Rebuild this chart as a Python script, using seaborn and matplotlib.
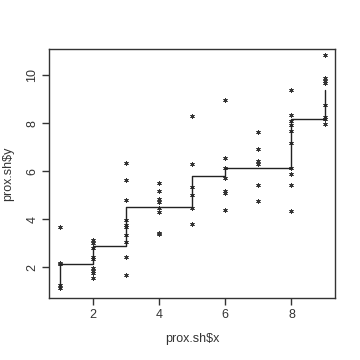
import matplotlib
matplotlib.use("Agg")
import matplotlib.pyplot as plt
import seaborn as sns
import pandas as pd

# observed data (x group, y value)
x_vals = ([1]*5 + [2]*9 + [3]*10 + [4]*8 + [5]*6 + [6]*7 + [7]*6 + [8]*10 + [9]*8)
y_vals = [3.69, 2.18, 2.12, 1.25, 1.15,
          3.12, 3.0, 2.8, 2.42, 2.35, 1.97, 1.85, 1.76, 1.54,
          6.36, 5.64, 4.8, 3.97, 3.76, 3.67, 3.35, 3.07, 2.42, 1.68,
          5.5, 5.18, 4.85, 4.73, 4.46, 4.32, 3.42, 3.37,
          8.32, 6.3, 5.33, 5.0, 4.46, 3.79,
          8.97, 6.57, 6.15, 5.73, 5.18, 5.08, 4.39,
          7.65, 6.93, 6.43, 6.29, 5.43, 4.76,
          9.39, 8.35, 8.1, 7.95, 7.69, 7.17, 6.12, 5.89, 5.43, 4.36,
          10.85, 9.87, 9.76, 9.67, 8.76, 8.28, 8.18, 7.97]

# isotonic fit step vertices
step_x = [1, 1, 2, 2, 3, 3, 5, 5, 6, 6, 8, 8, 9, 9]
step_y = [1.15, 2.14, 2.14, 2.9, 2.9, 4.53, 4.53, 5.8, 5.8, 6.12, 6.12, 8.17, 8.17, 9.39]

x_ticks = [2, 4, 6, 8]
y_ticks = [2, 4, 6, 8, 10]

sns.set_style("white")
plt.rcParams['font.family'] = ['Liberation Sans', 'DejaVu Sans']

fig = plt.figure(figsize=(3.6, 3.6), dpi=100)
ax = fig.add_axes([0.137, 0.173, 0.794, 0.691])

df = pd.DataFrame({"x": x_vals, "y": y_vals})
sns.scatterplot(data=df, x="x", y="y", ax=ax, marker=(6, 2, 0), s=8,
                color="#333333", linewidth=0.6, edgecolor="#333333")
sns.lineplot(x=step_x, y=step_y, ax=ax, estimator=None, sort=False,
             drawstyle="steps-post", color="#222222", linewidth=1.0)

ax.set_xlim(0.68, 9.32)
ax.set_ylim(0.73, 11.1)
ax.set_xticks(x_ticks)
ax.set_yticks(y_ticks)
ax.set_xticklabels([str(t) for t in x_ticks], fontsize=9, color="#333333")
ax.set_yticklabels([str(t) for t in y_ticks], fontsize=9, color="#333333",
                   rotation=90, va="center")
ax.tick_params(axis="both", direction="out", length=5, width=1, color="#333333",
               bottom=True, left=True, pad=3)
for s in ax.spines.values():
    s.set_visible(True)
    s.set_color("#333333")
    s.set_linewidth(1.0)
ax.set_xlabel("prox.sh$x", fontsize=9, color="#333333", labelpad=9)
ax.set_ylabel("prox.sh$y", fontsize=9, color="#333333", labelpad=9)

fig.savefig("out.png", dpi=100, facecolor="white")
